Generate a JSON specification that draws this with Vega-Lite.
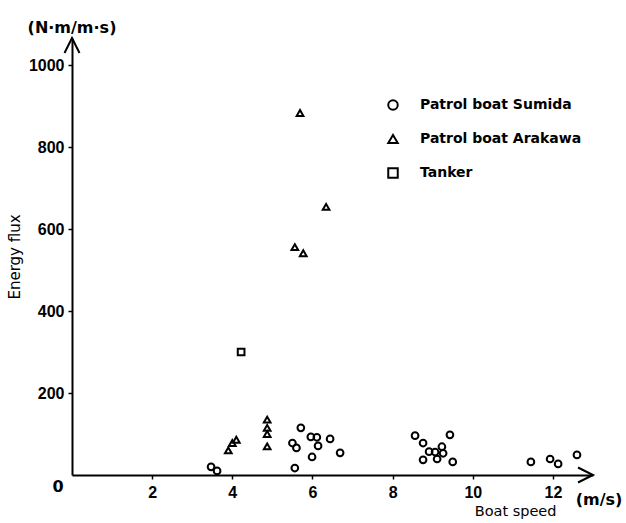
{
  "$schema": "https://vega.github.io/schema/vega-lite/v6.json",
  "width": 521,
  "height": 437,
  "autosize": {"type": "none"},
  "padding": {"left": 72, "top": 38, "right": 33, "bottom": 48},
  "background": "white",
  "config": {
    "view": {"stroke": null},
    "font": "DejaVu Sans",
    "axis": {"grid": false, "domainColor": "black", "domainWidth": 2, "tickColor": "black", "tickWidth": 1.5, "tickSize": 4, "labelColor": "black", "labelFont": "Liberation Sans", "labelFontWeight": "bold", "labelFontSize": 16, "titleColor": "black", "titleFont": "DejaVu Sans"}
  },
  "datasets": {
    "boats": [
      {"boat": "Patrol boat Sumida", "speed": 3.47, "flux": 20},
      {"boat": "Patrol boat Sumida", "speed": 3.62, "flux": 10},
      {"boat": "Patrol boat Sumida", "speed": 5.5, "flux": 78},
      {"boat": "Patrol boat Sumida", "speed": 5.6, "flux": 66},
      {"boat": "Patrol boat Sumida", "speed": 5.56, "flux": 17},
      {"boat": "Patrol boat Sumida", "speed": 5.71, "flux": 115},
      {"boat": "Patrol boat Sumida", "speed": 5.96, "flux": 93},
      {"boat": "Patrol boat Sumida", "speed": 6.11, "flux": 92},
      {"boat": "Patrol boat Sumida", "speed": 6.14, "flux": 71},
      {"boat": "Patrol boat Sumida", "speed": 6.44, "flux": 88},
      {"boat": "Patrol boat Sumida", "speed": 5.99, "flux": 44},
      {"boat": "Patrol boat Sumida", "speed": 6.69, "flux": 54},
      {"boat": "Patrol boat Sumida", "speed": 8.56, "flux": 96},
      {"boat": "Patrol boat Sumida", "speed": 8.76, "flux": 78},
      {"boat": "Patrol boat Sumida", "speed": 9.43, "flux": 98},
      {"boat": "Patrol boat Sumida", "speed": 8.91, "flux": 57},
      {"boat": "Patrol boat Sumida", "speed": 9.06, "flux": 56},
      {"boat": "Patrol boat Sumida", "speed": 9.23, "flux": 69},
      {"boat": "Patrol boat Sumida", "speed": 9.26, "flux": 53},
      {"boat": "Patrol boat Sumida", "speed": 8.76, "flux": 37},
      {"boat": "Patrol boat Sumida", "speed": 9.11, "flux": 39},
      {"boat": "Patrol boat Sumida", "speed": 9.5, "flux": 32},
      {"boat": "Patrol boat Sumida", "speed": 11.45, "flux": 32},
      {"boat": "Patrol boat Sumida", "speed": 11.93, "flux": 39},
      {"boat": "Patrol boat Sumida", "speed": 12.13, "flux": 27},
      {"boat": "Patrol boat Sumida", "speed": 12.6, "flux": 49},
      {"boat": "Patrol boat Arakawa", "speed": 5.69, "flux": 883},
      {"boat": "Patrol boat Arakawa", "speed": 6.34, "flux": 654},
      {"boat": "Patrol boat Arakawa", "speed": 5.56, "flux": 556},
      {"boat": "Patrol boat Arakawa", "speed": 5.77, "flux": 541},
      {"boat": "Patrol boat Arakawa", "speed": 3.9, "flux": 60},
      {"boat": "Patrol boat Arakawa", "speed": 4.0, "flux": 78},
      {"boat": "Patrol boat Arakawa", "speed": 4.1, "flux": 86},
      {"boat": "Patrol boat Arakawa", "speed": 4.87, "flux": 135},
      {"boat": "Patrol boat Arakawa", "speed": 4.87, "flux": 115},
      {"boat": "Patrol boat Arakawa", "speed": 4.87, "flux": 100},
      {"boat": "Patrol boat Arakawa", "speed": 4.87, "flux": 70},
      {"boat": "Tanker", "speed": 4.22, "flux": 300}
    ],
    "notes": [
      {"label": "(N·m/m·s)", "speed": 0, "flux": 1090},
      {"label": "(m/s)", "speed": 13.15, "flux": -62},
      {"label": "0", "speed": -0.35, "flux": -30}
    ],
    "xarrow": [{"speed": 13, "flux": 0}],
    "yarrow": [{"speed": 0, "flux": 1066}]
  },
  "layer": [
    {
      "data": {"name": "boats"},
      "mark": {"type": "point", "filled": false, "stroke": "black", "strokeWidth": 2, "size": 45, "opacity": 1},
      "encoding": {
        "x": {"field": "speed", "type": "quantitative", "scale": {"domain": [0, 13], "nice": false, "zero": false},
          "axis": {"values": [2, 4, 6, 8, 10, 12], "title": "Boat speed", "titleFontSize": 14.5, "titleFontWeight": "normal", "titleAnchor": "end", "titleAlign": "right", "titleX": 484, "titleY": 29, "labelPadding": 5}},
        "y": {"field": "flux", "type": "quantitative", "scale": {"domain": [0, 1066], "nice": false, "zero": false},
          "axis": {"values": [200, 400, 600, 800, 1000], "format": "d", "title": "Energy flux", "titleFontSize": 15, "titleFontWeight": "normal", "titlePadding": 6, "labelPadding": 4}},
        "shape": {"field": "boat", "type": "nominal",
          "scale": {"domain": ["Patrol boat Sumida", "Patrol boat Arakawa", "Tanker"], "range": ["circle", "triangle-up", "square"]},
          "legend": {"title": null, "orient": "none", "legendX": 314, "legendY": 60, "symbolSize": 90, "symbolStrokeWidth": 2, "symbolStrokeColor": "black", "symbolFillColor": "transparent", "labelFontSize": 14, "labelFontWeight": "bold", "labelColor": "black", "labelFont": "DejaVu Sans", "labelLimit": 400, "rowPadding": 16, "labelOffset": 20}}
      }
    },
    {
      "data": {"name": "notes"},
      "mark": {"type": "text", "font": "DejaVu Sans", "fontWeight": "bold", "fontSize": 16, "color": "black"},
      "encoding": {
        "x": {"field": "speed", "type": "quantitative"},
        "y": {"field": "flux", "type": "quantitative"},
        "text": {"field": "label"}
      }
    },
    {
      "data": {"name": "xarrow"},
      "mark": {"type": "point", "shape": "M -1 -0.5 L 0 0 L -1 0.5", "filled": false, "stroke": "black", "strokeWidth": 2, "size": 900, "opacity": 1},
      "encoding": {
        "x": {"field": "speed", "type": "quantitative"},
        "y": {"field": "flux", "type": "quantitative"}
      }
    },
    {
      "data": {"name": "yarrow"},
      "mark": {"type": "point", "shape": "M -0.5 1 L 0 0 L 0.5 1", "filled": false, "stroke": "black", "strokeWidth": 2, "size": 900, "opacity": 1},
      "encoding": {
        "x": {"field": "speed", "type": "quantitative"},
        "y": {"field": "flux", "type": "quantitative"}
      }
    }
  ]
}
